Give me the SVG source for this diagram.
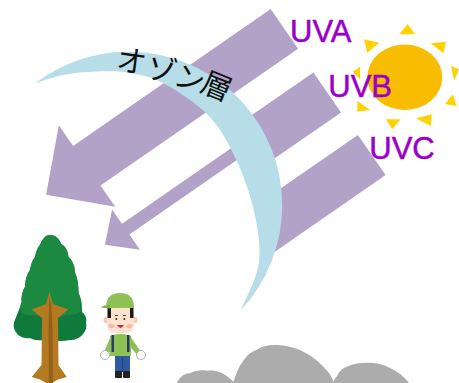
<svg xmlns="http://www.w3.org/2000/svg" width="459" height="383" viewBox="0 0 459 383">
  <style>
    .ray { fill: #b3a2c8; }
    .ozone { fill: #b7dde8; }
    .uv { font-family: "Liberation Sans", Arial, sans-serif; font-size: 31px; fill: #9a00c8; stroke: #9a00c8; stroke-width: 0.5; }
    .jp { font-family: "Noto Sans CJK JP", "Noto Sans", sans-serif; font-size: 30px; fill: #111; text-anchor: middle; }
    .sunray { fill: #ffd200; }
  </style>

  <rect width="459" height="383" fill="#ffffff"/>

  <!-- ultraviolet bands -->
  <g id="uva-ray">
    <polygon class="ray" points="270.7,9.1 73.1,145.9 58.8,125.3 46.1,194.8 115.2,206.8 100.5,185.6 298.1,48.8"/>
  </g>
  <g id="uvb-ray">
    <polygon class="ray" points="313.4,72.4 245,119.7 253.8,132.6 122,223.8 112.1,209.4 104.9,244.7 140,249.7 129.4,234.4 253.5,148.4 265,165 341.1,112.4"/>
  </g>
  <g id="uvc-ray">
    <polygon class="ray" points="357.9,134.9 270,195.8 272,253.7 385.6,175"/>
  </g>

  <!-- ozone layer crescent -->
  <g id="ozone-layer">
    <path class="ozone" d="M35,83.3 A153.7,153.7 0 0 1 241,310
      C244,302 257,279.2 259,262
      C261,244.8 257.3,225.2 253,207
      C248.7,188.8 240.7,168.5 233,153
      C225.3,137.5 218.7,125.7 207,114
      C195.3,102.3 175.8,89.8 163,83
      C150.2,76.2 141,74.9 130,73
      C119,71.1 108.2,71.2 97,71.5
      C85.8,71.8 73.3,73 63,75
      C52.7,77 39.7,81.9 35,83.3 Z"/>
    <text class="jp" transform="translate(131.5,61.5) rotate(8)" x="0" y="10.5">オ</text>
    <text class="jp" transform="translate(161.5,70) rotate(14)" x="0" y="10.5">ゾ</text>
    <text class="jp" transform="translate(189.5,79) rotate(20)" x="0" y="10.5">ン</text>
    <text class="jp" transform="translate(216.5,86.5) rotate(22)" x="0" y="10.5">層</text>
  </g>

  <!-- sun -->
  <g id="sun">
    <polygon class="sunray" points="399,34.3 415,34.3 407.7,24"/>
    <polygon class="sunray" points="364,39.3 379.3,42.7 367.3,52.7"/>
    <polygon class="sunray" points="430.7,43.3 446,41.7 443.3,53.3"/>
    <polygon class="sunray" points="451,66 459,69.3 454,80.7"/>
    <polygon class="sunray" points="445,104 452.7,94.3 456.7,106"/>
    <polygon class="sunray" points="416,118.3 431.7,114.3 430.7,126"/>
    <polygon class="sunray" points="386,119.3 400.7,119.3 392.3,129.3"/>
    <polygon class="sunray" points="357.3,100.7 370,110 357.3,111.7"/>
    <polygon class="sunray" points="352.7,71.7 360,66.7 360,79.3"/>
    <ellipse cx="404.8" cy="77.2" rx="37.5" ry="32.8" fill="#f8bd00"/>
  </g>

  <!-- labels -->
  <g id="labels">
    <text class="uv" x="290" y="41.7">UVA</text>
    <text class="uv" x="328.3" y="96.7">UVB</text>
    <text class="uv" x="369.3" y="159.3">UVC</text>
  </g>

  <!-- conifer tree -->
  <g id="tree">
    <path fill="#0f7a3c" d="M50,235 C56,235 60,240 61,244 C66,246 68,252 68.5,257 C73,261 75,267 75,273 C78,279 78.5,287 78.5,293 C82,299 82,306 82,312 C86,315 87,319 86,322 C87,327 86,331 83,334 C80,338 75,340 70,340 C60,342 52,340 43,340 C36,341 32,339 30,338 C24,339 18,336 16.7,333 C13,329 13,323 15,320 C17,314 20,308 21.7,302 C21,296 23,290 25,287 C25,281 27,274 30,270 C31,264 33,259 35,257 C36,251 38,247 40,245 C42,240 45,235 50,235 Z"/>
    <path fill="#1b8a40" d="M50,235 C56,235 60,240 61,244 C66,246 68,252 68.5,257 C73,261 75,267 75,273 C78,279 78.5,287 78.5,293 C81,299 81,305 80,312 C74,316 68,314 62,316 C56,319 46,319 40,316 C34,314 28,317 22,313 C20,309 20,305 21.7,302 C21,296 23,290 25,287 C25,281 27,274 30,270 C31,264 33,259 35,257 C36,251 38,247 40,245 C42,240 45,235 50,235 Z"/>
    <polygon fill="#b47a22" points="49.3,292 53,304 68.3,309.5 58,318 58.5,365 66.7,377 58,379.5 52,383 46,383 40,379.5 31.7,377 41.5,365 42,318 31.7,309.5 46,304"/>
    <polygon fill="#93601a" points="49.3,296 51.5,306 52.5,330 53,383 49,383 48.5,330"/>
  </g>

  <!-- hiker -->
  <g id="hiker">
    <!-- arms -->
    <path fill="#8dc154" d="M111,336 L104,352 L108,355 L114,344 Z"/>
    <path fill="#8dc154" d="M130,336 L141,352 L137,355 L128,344 Z"/>
    <!-- gloves -->
    <ellipse cx="105" cy="355" rx="4.5" ry="4.5" fill="#ffffff" stroke="#9aa0a6" stroke-width="0.8"/>
    <ellipse cx="141" cy="355" rx="4.5" ry="4.5" fill="#ffffff" stroke="#9aa0a6" stroke-width="0.8"/>
    <!-- pants -->
    <rect x="115" y="354" width="15" height="18" fill="#2f5aa3"/>
    <line x1="122.5" y1="358" x2="122.5" y2="372" stroke="#1f3f7a" stroke-width="1"/>
    <!-- shoes -->
    <rect x="115" y="371" width="7" height="7" rx="1" fill="#222"/>
    <rect x="123" y="371" width="7" height="7" rx="1" fill="#222"/>
    <!-- shirt -->
    <path fill="#8dc154" d="M110,336 Q120,332 131,336 L131,356 L110,356 Z"/>
    <!-- backpack straps -->
    <rect x="111.5" y="335" width="2.5" height="17" fill="#2a3a6a"/>
    <rect x="127" y="335" width="2.5" height="17" fill="#2a3a6a"/>
    <!-- head -->
    <circle cx="106.8" cy="320" r="3.2" fill="#f9c7b3"/>
    <circle cx="134.4" cy="320" r="3.2" fill="#f9c7b3"/>
    <rect x="107" y="305" width="27" height="28" rx="8" fill="#fde3cd"/>
    <rect x="107.5" y="306" width="3.5" height="12" fill="#1a1a1a"/>
    <rect x="130" y="306" width="3.5" height="12" fill="#1a1a1a"/>
    <ellipse cx="111.5" cy="326" rx="3" ry="2" fill="#f8b4b0"/>
    <ellipse cx="129.5" cy="326" rx="3" ry="2" fill="#f8b4b0"/>
    <rect x="115" y="315" width="2.8" height="1" fill="#333"/>
    <rect x="123" y="315" width="2.8" height="1" fill="#333"/>
    <circle cx="116.4" cy="319" r="1" fill="#333"/>
    <circle cx="124.4" cy="319" r="1" fill="#333"/>
    <path d="M117,325 Q120.5,331 124,325 Z" fill="#d2263f"/>
    <!-- cap -->
    <path fill="#8dc154" d="M106,308 Q106,293 120,293 Q134,293 134,308 Z"/>
    <path fill="#7cb043" d="M100.5,307.5 Q104,304.5 110,305 L110,308.5 Z"/>
  </g>

  <!-- rocks -->
  <g id="hills" fill="#acacac">
    <path d="M176.7,383 C180,376 186,373 190,373.3 C196,370 202,370 206.7,370.7 C214,370 222,372 225,375 C229,377 232,380 234,383 Z"/>
    <path d="M233,383 C236,375 238,368 241.7,363.3 C246,356 250,352 256.7,350 C264,345 271,345 276.7,345 C286,345 296,348 303.3,351.7 C312,356 318,361 323.3,366.7 C328,371 332,376 334,383 Z"/>
    <path d="M333,383 C334,379 336,377 336.7,376.7 C339,371 343,368 346.7,366.7 C354,363 362,362.5 370,362.7 C380,363 390,367 396.7,371.7 C402,375 406,379 409,383 Z"/>
  </g>
</svg>
